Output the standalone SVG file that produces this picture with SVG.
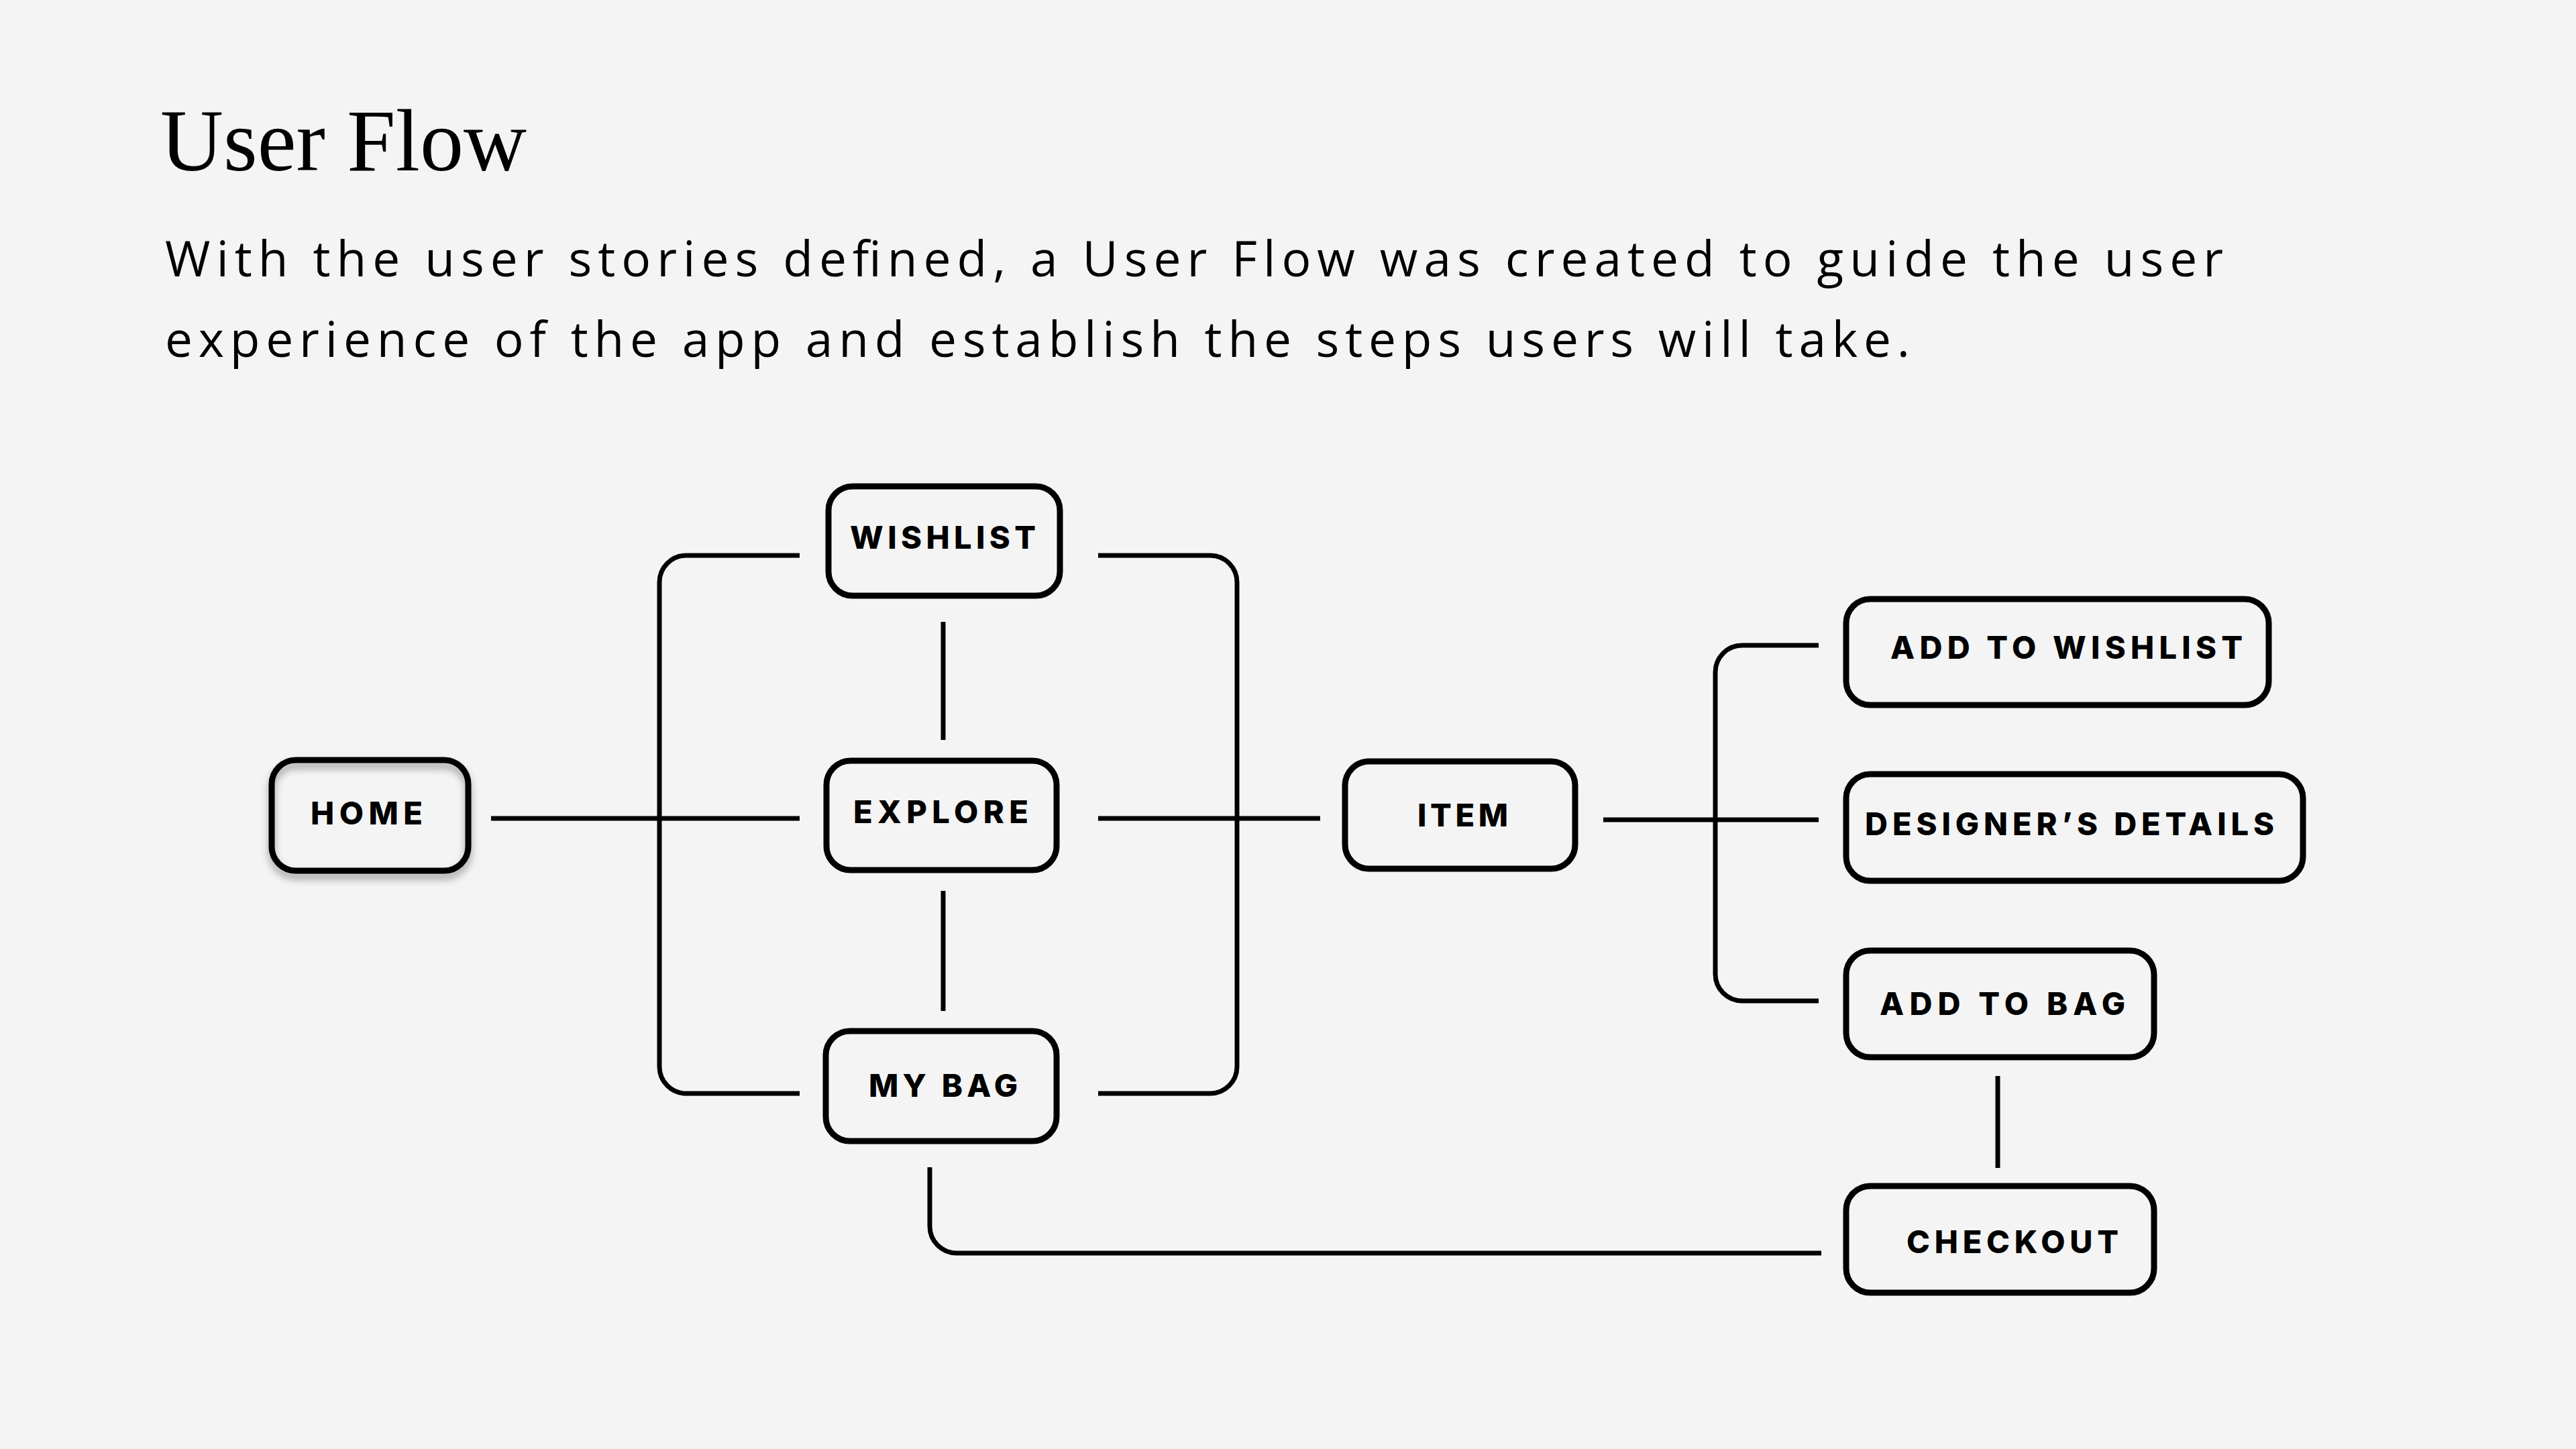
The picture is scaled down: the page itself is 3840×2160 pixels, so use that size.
<svg xmlns="http://www.w3.org/2000/svg" width="3840" height="2160" viewBox="0 0 3840 2160">
<defs>
<style>
.box{fill:none;stroke:#000;stroke-width:9}
.lbl{font-family:Inter,"Liberation Sans",sans-serif;font-weight:800;font-size:47px;fill:#000}
.con{fill:none;stroke:#000;stroke-width:7}
.para{font-family:"Open Sans","Noto Sans",sans-serif;font-weight:400;font-size:73px;fill:#000}
.title{font-family:"Liberation Serif",serif;font-size:132px;fill:#000}
</style>
<filter id="shadow" x="-20%" y="-20%" width="140%" height="150%">
<feDropShadow dx="0" dy="8" stdDeviation="6" flood-color="#000" flood-opacity="0.35"/>
</filter>
</defs>
<rect x="0" y="0" width="3840" height="2160" fill="#f4f4f4"/>
<text class="title" x="239" y="254" textLength="546" lengthAdjust="spacingAndGlyphs">User Flow</text>
<text class="para" x="246" y="412" textLength="3068" lengthAdjust="spacing">With the user stories defined, a User Flow was created to guide the user</text>
<text class="para" x="246" y="532" textLength="2601" lengthAdjust="spacing">experience of the app and establish the steps users will take.</text>
<g id="connectors">
<path class="con" d="M732 1220 H1192"/>
<path class="con" d="M1192 828 H1023 A40 40 0 0 0 983 868 V1590 A40 40 0 0 0 1023 1630 H1192"/>
<path class="con" d="M1406 927 V1103"/>
<path class="con" d="M1406 1328 V1507"/>
<path class="con" d="M1637 828 H1804 A40 40 0 0 1 1844 868 V1590 A40 40 0 0 1 1804 1630 H1637"/>
<path class="con" d="M1637 1220 H1968"/>
<path class="con" d="M2390 1222 H2711"/>
<path class="con" d="M2711 962 H2597 A40 40 0 0 0 2557 1002 V1452 A40 40 0 0 0 2597 1492 H2711"/>
<path class="con" d="M2978 1604 V1741"/>
<path class="con" d="M1386 1740 V1828 A40 40 0 0 0 1426 1868 H2715"/>
</g>
<g id="home">
<rect class="box" x="405" y="1133" width="293" height="165" rx="36" filter="url(#shadow)"/>
<text class="lbl" x="463" y="1229" textLength="167" lengthAdjust="spacing">HOME</text>
</g>
<g id="wishlist">
<rect class="box" x="1235" y="725" width="345" height="163" rx="36"/>
<text class="lbl" x="1267" y="818" textLength="277" lengthAdjust="spacing">WISHLIST</text>
</g>
<g id="explore">
<rect class="box" x="1232" y="1134" width="343" height="163" rx="36"/>
<text class="lbl" x="1272" y="1227" textLength="261" lengthAdjust="spacing">EXPLORE</text>
</g>
<g id="mybag">
<rect class="box" x="1231" y="1537" width="344" height="164" rx="36"/>
<text class="lbl" x="1295" y="1635" textLength="222" lengthAdjust="spacing">MY BAG</text>
</g>
<g id="item">
<rect class="box" x="2005" y="1135" width="343" height="160" rx="36"/>
<text class="lbl" x="2113" y="1232" textLength="135" lengthAdjust="spacing">ITEM</text>
</g>
<g id="addtowishlist">
<rect class="box" x="2752" y="893" width="630" height="158" rx="36"/>
<text class="lbl" x="2818" y="982" textLength="525" lengthAdjust="spacing">ADD TO WISHLIST</text>
</g>
<g id="designersdetails">
<rect class="box" x="2752" y="1154" width="681" height="159" rx="36"/>
<text class="lbl" x="2780" y="1245" textLength="610" lengthAdjust="spacing">DESIGNER’S DETAILS</text>
</g>
<g id="addtobag">
<rect class="box" x="2752" y="1417" width="459" height="159" rx="36"/>
<text class="lbl" x="2802" y="1513" textLength="366" lengthAdjust="spacing">ADD TO BAG</text>
</g>
<g id="checkout">
<rect class="box" x="2752" y="1768" width="459" height="159" rx="36"/>
<text class="lbl" x="2842" y="1868" textLength="316" lengthAdjust="spacing">CHECKOUT</text>
</g>
</svg>
